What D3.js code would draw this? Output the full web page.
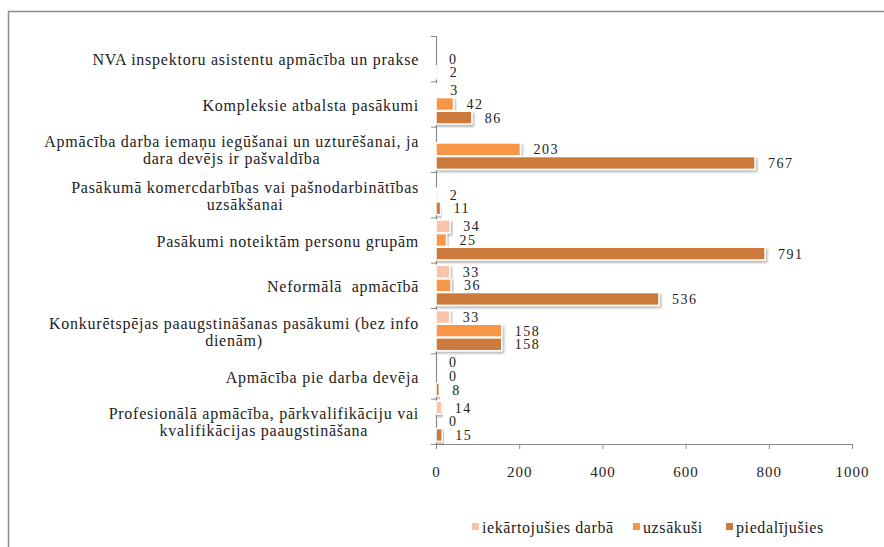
<!DOCTYPE html>
<html>
<head>
<meta charset="utf-8">
<script src="https://cdn.jsdelivr.net/npm/d3@7"></script>
<style>
  body { margin: 0; background: #fff; }
  svg text { font-family: "Liberation Serif", "DejaVu Serif", serif; fill: #222; }
</style>
</head>
<body>
<svg id="chart" width="884" height="547"></svg>
<script>
// categories, top to bottom (line breaks as in the original)
const categories = [
    ['NVA inspektoru asistentu apmācība un prakse'],
    ['Kompleksie atbalsta pasākumi'],
    ['Apmācība darba iemaņu iegūšanai un uzturēšanai, ja', 'dara devējs ir pašvaldība'],
    ['Pasākumā komercdarbības vai pašnodarbinātības', 'uzsākšanai'],
    ['Pasākumi noteiktām personu grupām'],
    ['Neformālā  apmācībā'],
    ['Konkurētspējas paaugstināšanas pasākumi (bez info', 'dienām)'],
    ['Apmācība pie darba devēja'],
    ['Profesionālā apmācība, pārkvalifikāciju vai', 'kvalifikācijas paaugstināšana']
];

const seriesNames = ['iekārtojušies darbā', 'uzsākuši', 'piedalījušies'];

// null = no value shown in the original
const iekartojusies = [null, 3, null, null, 34, 33, 33, 0, 14];
const uzsakusi      = [0, 42, 203, 2, 25, 36, 158, 0, 0];
const piedalijusies = [2, 86, 767, 11, 791, 536, 158, 8, 15];

const xTicks = [0, 200, 400, 600, 800, 1000];

const colors = ['#f9c3a8', '#f79646', '#cb7a3a'];

const svg = d3.select('#chart');

// shadow for the bars
const defs = svg.append('defs');
defs.append('filter')
        .attr('id', 'shadow')
        .attr('x', '-10%').attr('y', '-30%')
        .attr('width', '130%').attr('height', '190%')
        .append('feDropShadow')
        .attr('dx', 1.5).attr('dy', 2)
        .attr('stdDeviation', 1.2)
        .attr('flood-color', '#000')
        .attr('flood-opacity', 0.3);

// outer chart border (only top/left visible in the crop)
svg.append('rect')
        .attr('x', 8.5).attr('y', 11.5)
        .attr('width', 900).attr('height', 600)
        .attr('fill', 'none')
        .attr('stroke', '#8c8c8c')
        .attr('stroke-width', 1.5);

const plotLeft = 436, plotRight = 852, plotTop = 36, plotBottom = 444;

const x = d3.scaleLinear().domain([0, 1000]).range([plotLeft, plotRight]);

const y = d3.scaleBand()
        .domain(d3.range(categories.length))
        .range([plotTop, plotBottom])
        .paddingInner(0.08)
        .paddingOuter(0.04);

const yInner = d3.scaleBand()
        .domain(d3.range(3))
        .range([0, y.bandwidth()])
        .padding(0.06);

const rows = categories.map((c, i) => ({
    i: i,
    label: c,
    values: [iekartojusies[i], uzsakusi[i], piedalijusies[i]]
}));

// x axis
const xAxis = svg.append('g')
        .attr('transform', `translate(0,${plotBottom})`)
        .call(d3.axisBottom(x).tickValues(xTicks).tickFormat(d3.format('d'))
                .tickSize(5).tickPadding(17).tickSizeOuter(0));
xAxis.select('.domain').attr('stroke', '#8c8c8c').attr('stroke-width', 1.2);
xAxis.selectAll('.tick line').attr('stroke', '#8c8c8c');
xAxis.selectAll('.tick text')
        .attr('font-size', 15)
        .attr('letter-spacing', 1)
        .attr('fill', '#222')
        .style('font-family', '"Liberation Serif", serif');

// y axis line with ticks at category boundaries
const yAxisScale = d3.scaleLinear().domain([0, categories.length]).range([plotTop, plotBottom]);
const yAxis = svg.append('g')
        .attr('transform', `translate(${plotLeft},0)`)
        .call(d3.axisLeft(yAxisScale).ticks(categories.length).tickSize(5).tickFormat('').tickSizeOuter(5));
yAxis.select('.domain').attr('stroke', '#8c8c8c').attr('stroke-width', 1.2);
yAxis.selectAll('.tick line').attr('stroke', '#8c8c8c');

// bars
const group = svg.append('g')
        .selectAll('g')
        .data(rows)
        .enter().append('g')
        .attr('transform', d => `translate(0,${y(d.i)})`);

const cells = group.selectAll('g.cell')
        .data(d => d.values.map((v, s) => ({ v: v, s: s })).filter(d => d.v !== null))
        .enter().append('g')
        .attr('class', 'cell');

cells.append('rect')
        .attr('x', x(0))
        .attr('y', d => yInner(d.s))
        .attr('width', d => Math.max(x(d.v) - x(0), 0))
        .attr('height', yInner.bandwidth())
        .attr('fill', d => colors[d.s])
        .attr('stroke', '#fff')
        .attr('stroke-width', 1.5)
        .attr('filter', 'url(#shadow)');

cells.append('text')
        .attr('x', d => x(d.v) + 13)
        .attr('y', d => yInner(d.s) + yInner.bandwidth() / 2)
        .attr('dy', '0.35em')
        .attr('font-size', 14)
        .attr('letter-spacing', 1.5)
        .text(d => d.v);

// category labels: block right-aligned, lines centred within the block
const labelRight = 419;
const labels = svg.append('g')
        .selectAll('text')
        .data(rows)
        .enter().append('text')
        .attr('font-size', 16)
        .attr('letter-spacing', 0.75)
        .attr('text-anchor', 'middle')
        .style('white-space', 'pre');

labels.each(function (d) {
    const t = d3.select(this);
    const n = d.label.length;
    const cy = y(d.i) + y.bandwidth() / 2 + 1;
    d.label.forEach((line, k) => {
        t.append('tspan')
                .attr('y', cy + (k - (n - 1) / 2) * 17)
                .attr('dy', '0.35em')
                .text(line);
    });
    const w = d3.max(t.selectAll('tspan').nodes(), nd => nd.getComputedTextLength());
    t.selectAll('tspan').attr('x', labelRight - w / 2);
});

// legend
const legendX = [472, 633, 726];
const legend = svg.append('g')
        .selectAll('g')
        .data(seriesNames)
        .enter().append('g')
        .attr('transform', (d, i) => `translate(${legendX[i]},527)`);

legend.append('rect')
        .attr('x', 0).attr('y', -4)
        .attr('width', 7).attr('height', 7)
        .attr('fill', (d, i) => colors[i]);

legend.append('text')
        .attr('x', 10)
        .attr('dy', '0.35em')
        .attr('font-size', 16)
        .attr('letter-spacing', 0.6)
        .text(d => d);
</script>
</body>
</html>
